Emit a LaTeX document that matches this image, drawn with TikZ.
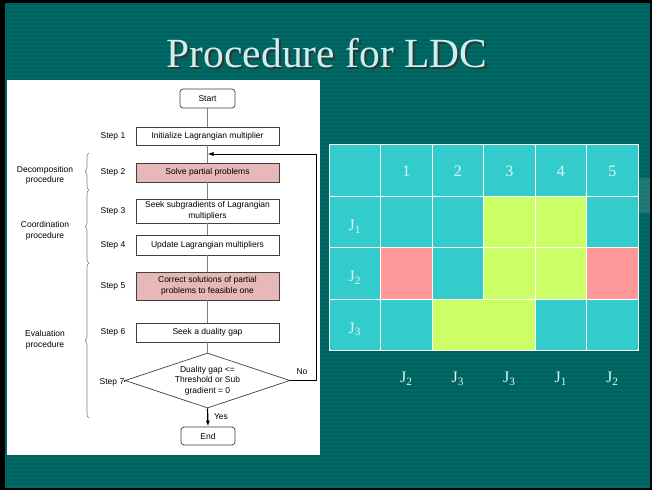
\documentclass[tikz,border=0pt]{standalone}
\usepackage{fontspec}
\setmainfont{Liberation Serif}
\newfontfamily\flowfont{Liberation Sans}
\usetikzlibrary{%
  arrows.meta,%
  shapes.geometric,%
  decorations.pathreplacing,%
  positioning}

\definecolor{slide}{HTML}{006A67}
\definecolor{slidedark}{HTML}{00605D}
\definecolor{titletext}{HTML}{C8F2F0}
\definecolor{boxline}{HTML}{404040}
\definecolor{linkgray}{HTML}{808080}
\definecolor{pinkbox}{HTML}{E6B8B7}
\definecolor{cellcyan}{HTML}{33CCCC}
\definecolor{cellgreen}{HTML}{CCFF66}
\definecolor{cellrose}{HTML}{FF9999}
\definecolor{celltext}{HTML}{E6F6F6}

\tikzset{
  flowtext/.style={font=\flowfont\fontsize{8.5}{10.5}\selectfont},
  procbox/.style={flowtext,rectangle,draw=boxline,line width=0.7pt,fill=white,
    minimum width=143pt,minimum height=19pt,inner sep=1pt,align=center},
  pinkproc/.style={procbox,fill=pinkbox},
  termbox/.style={procbox,rounded corners=3pt,minimum width=55pt},
  decision/.style={flowtext,diamond,draw=boxline,line width=0.7pt,fill=white,
    aspect=3,inner sep=0pt,minimum width=165pt,minimum height=55pt,align=center},
  steplabel/.style={flowtext,inner sep=0pt},
  link/.style={draw=linkgray,line width=0.8pt},
  bracket/.style={draw=linkgray,line width=0.6pt,
    decorate,decoration={brace,amplitude=4pt}},
  cellline/.style={draw=white,line width=1pt},
  tabtext/.style={text=celltext,font=\fontsize{16}{18}\selectfont}
}

\begin{document}
\begin{tikzpicture}[x=1pt,y=-1pt]
\useasboundingbox (0,0) rectangle (652,490);
% fond de la diapositive
\fill[black] (0,0) rectangle (652,490);
\fill[slide] (5,3) rectangle (650,488);
\foreach \y in {3,7,...,485}
  \fill[slidedark] (5,\y) rectangle (650,\y+2);
\fill[white,opacity=0.12] (620,178) rectangle (650,213);

% titre
\node (titleshadow) at (329,55) [text=black!80,font=\fontsize{41.5}{44}\selectfont] {Procedure for LDC};
\node (title) at (327,53) [text=titletext,font=\fontsize{41.5}{44}\selectfont] {Procedure for LDC};

% organigramme
\fill[white] (7,80) rectangle (320,455);
\node (start) at (207.5,98.5) [termbox] {Start};
\node (s1) at (207.5,136) [procbox,minimum height=18pt] {Initialize Lagrangian multiplier};
\node (s2) at (207.5,172.5) [pinkproc] {Solve partial problems};
\node (s3) at (207.5,211) [procbox,minimum height=24pt] {Seek subgradients of Lagrangian\\multipliers};
\node (s4) at (207.5,245) [procbox,minimum height=20pt] {Update Lagrangian multipliers};
\node (s5) at (207.5,286) [pinkproc,minimum height=28pt] {Correct solutions of partial\\problems to feasible one};
\node (s6) at (207.5,332.5) [procbox] {Seek a duality gap};
\node (dec) at (207.5,380.5) [decision] {Duality gap <=\\Threshold or Sub\\gradient = 0};
\node (end) at (208,436) [termbox,minimum width=54pt,minimum height=18pt] {End};

\node (l1) at (113,136) [steplabel] {Step 1};
\node (l2) at (113,172.5) [steplabel] {Step 2};
\node (l3) at (113,211) [steplabel] {Step 3};
\node (l4) at (113,245) [steplabel] {Step 4};
\node (l5) at (113,286) [steplabel] {Step 5};
\node (l6) at (113,332.5) [steplabel] {Step 6};
\node (l7) at (112,382) [steplabel] {Step 7};

\draw[link] (start) -- (s1);
\draw[link] (s1) -- (s2);
\draw[link] (s2) -- (s3);
\draw[link] (s3) -- (s4);
\draw[link] (s4) -- (s5);
\draw[link] (s5) -- (s6);
\draw[link] (s6) -- (dec);
\draw[black,line width=0.8pt] (l7.east) -- (dec.west);

% retour "No"
\coordinate (back) at (207.5,154);
\draw[black,line width=0.8pt,-{Latex[length=6pt,width=4pt]}] (dec.east) -- ++(26,0) |- (back);
\node (no) at (302,372) [steplabel] {No};
\draw[black,line width=1.2pt,-{Latex[length=6pt,width=4pt]}] (dec.south) -- (end.north);
\node (yes) at (221,417) [steplabel] {Yes};

% accolades
\draw[bracket] (89,190) -- (89,153);
\draw[bracket] (89,263) -- (89,190);
\draw[bracket] (89,418) -- (89,263);
\node (dproc) at (45,175.5) [steplabel,align=center] {Decomposition\\procedure};
\node (cproc) at (45,231) [steplabel,align=center] {Coordination\\procedure};
\node (eproc) at (45,340) [steplabel,align=center] {Evaluation\\procedure};

% tableau
\def\cs{51.5}
\foreach \c in {0,...,5}
  \foreach \r in {0,...,3}
    \draw[cellline,fill=cellcyan] (329+\c*\cs,144.5+\r*\cs) rectangle ++(\cs,\cs);
\foreach \c/\r/\col in {3/1/cellgreen,4/1/cellgreen,1/2/cellrose,3/2/cellgreen,4/2/cellgreen,5/2/cellrose}
  \draw[cellline,fill=\col] (329+\c*\cs,144.5+\r*\cs) rectangle ++(\cs,\cs);
\draw[cellline,fill=cellgreen] (329+2*\cs,144.5+3*\cs) rectangle ++(2*\cs,\cs);

\foreach \n in {1,...,5}
  \node (col\n) at (354.75+\n*\cs,171) [tabtext] {\n};
\foreach \r in {1,2,3}
  \node (job\r) at (354.75,175+\r*\cs) [tabtext] {J\textsubscript{\r}};
\foreach \n/\j in {1/2,2/3,3/3,4/1,5/2}
  \node (seq\n) at (354.75+\n*\cs,379) [tabtext] {J\textsubscript{\j}};
\end{tikzpicture}
\end{document}
